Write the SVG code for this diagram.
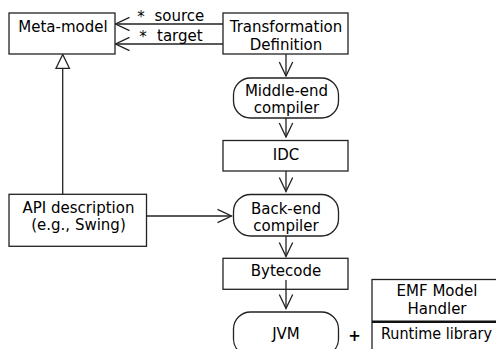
<svg xmlns="http://www.w3.org/2000/svg" width="496" height="349" viewBox="0 0 496 349">
<defs>
<style>
.box{fill:#fff;stroke:#222;stroke-width:1.3}
.ln{fill:none;stroke:#222;stroke-width:1.3}
text{font-family:"DejaVu Sans",sans-serif;font-size:15px;fill:#000;text-anchor:middle}
</style>
<marker id="open" markerWidth="16" markerHeight="16" viewBox="-15 -8 16 16" refX="0" refY="0" orient="auto" markerUnits="userSpaceOnUse">
<path d="M-14,-6.7 L0,0 L-14,6.7" fill="none" stroke="#222" stroke-width="1.3"/>
</marker>
</defs>
<rect width="496" height="349" fill="#fff"/>
<g id="connectors">
<line class="ln" x1="223" y1="24" x2="115.5" y2="24" marker-end="url(#open)"/>
<line class="ln" x1="223" y1="44" x2="115.5" y2="44" marker-end="url(#open)"/>
<text x="141" y="22" style="text-anchor:middle">*</text>
<text x="154.5" y="21" style="text-anchor:start">source</text>
<text x="143" y="42" style="text-anchor:middle">*</text>
<text x="157" y="41" style="text-anchor:start">target</text>
<line class="ln" x1="62.7" y1="194.3" x2="62.7" y2="68.3"/>
<polygon points="62.7,54.5 56,68.3 69.4,68.3" fill="#fff" stroke="#222" stroke-width="1.3"/>
<line class="ln" x1="286" y1="54" x2="286" y2="76" marker-end="url(#open)"/>
<line class="ln" x1="286" y1="118" x2="286" y2="137" marker-end="url(#open)"/>
<line class="ln" x1="286" y1="171" x2="286" y2="191.5" marker-end="url(#open)"/>
<line class="ln" x1="146.7" y1="216" x2="231.5" y2="216" marker-end="url(#open)"/>
<line class="ln" x1="286" y1="236" x2="286" y2="256.5" marker-end="url(#open)"/>
</g>
<g id="metamodel">
<rect class="box" x="9" y="13" width="106" height="41"/>
<text x="63" y="32">Meta-model</text>
</g>
<g id="transformation">
<rect class="box" x="223" y="13" width="125" height="41"/>
<text x="286" y="32">Transformation</text>
<text x="286" y="50">Definition</text>
</g>
<g id="middleend">
<rect class="box" x="233.5" y="78" width="105" height="40" rx="17"/>
<text x="286.5" y="95.5">Middle-end</text>
<text x="286.5" y="112.5">compiler</text>
</g>
<g id="idc">
<rect class="box" x="223" y="140.5" width="125" height="30.5"/>
<text x="286" y="160">IDC</text>
</g>
<g id="backend">
<rect class="box" x="233.5" y="194.5" width="105" height="41.5" rx="17"/>
<text x="286" y="214">Back-end</text>
<text x="286" y="231">compiler</text>
</g>
<g id="api">
<rect class="box" x="9" y="194.3" width="137.5" height="52"/>
<text x="78.5" y="213">API description</text>
<text x="78.5" y="230">(e.g., Swing)</text>
</g>
<g id="bytecode">
<rect class="box" x="223" y="258.3" width="125" height="31"/>
<text x="286" y="276">Bytecode</text>
</g>
<g id="bytecode-jvm">
<line class="ln" x1="286" y1="280" x2="286" y2="308.5" marker-end="url(#open)"/>
</g>
<g id="jvm">
<rect class="box" x="233.5" y="312" width="105" height="44" rx="17"/>
<text x="286" y="339">JVM</text>
</g>
<g id="plus">
<text x="354.5" y="341" style="font-weight:bold">+</text>
</g>
<g id="emf">
<rect class="box" x="372" y="279.5" width="130" height="80"/>
<line x1="372" y1="321.7" x2="502" y2="321.7" stroke="#111" stroke-width="2.4"/>
<text x="437" y="296">EMF Model</text>
<text x="437" y="313.5">Handler</text>
<text x="381" y="339" style="text-anchor:start" textLength="111" lengthAdjust="spacingAndGlyphs">Runtime library</text>
</g>
</svg>
